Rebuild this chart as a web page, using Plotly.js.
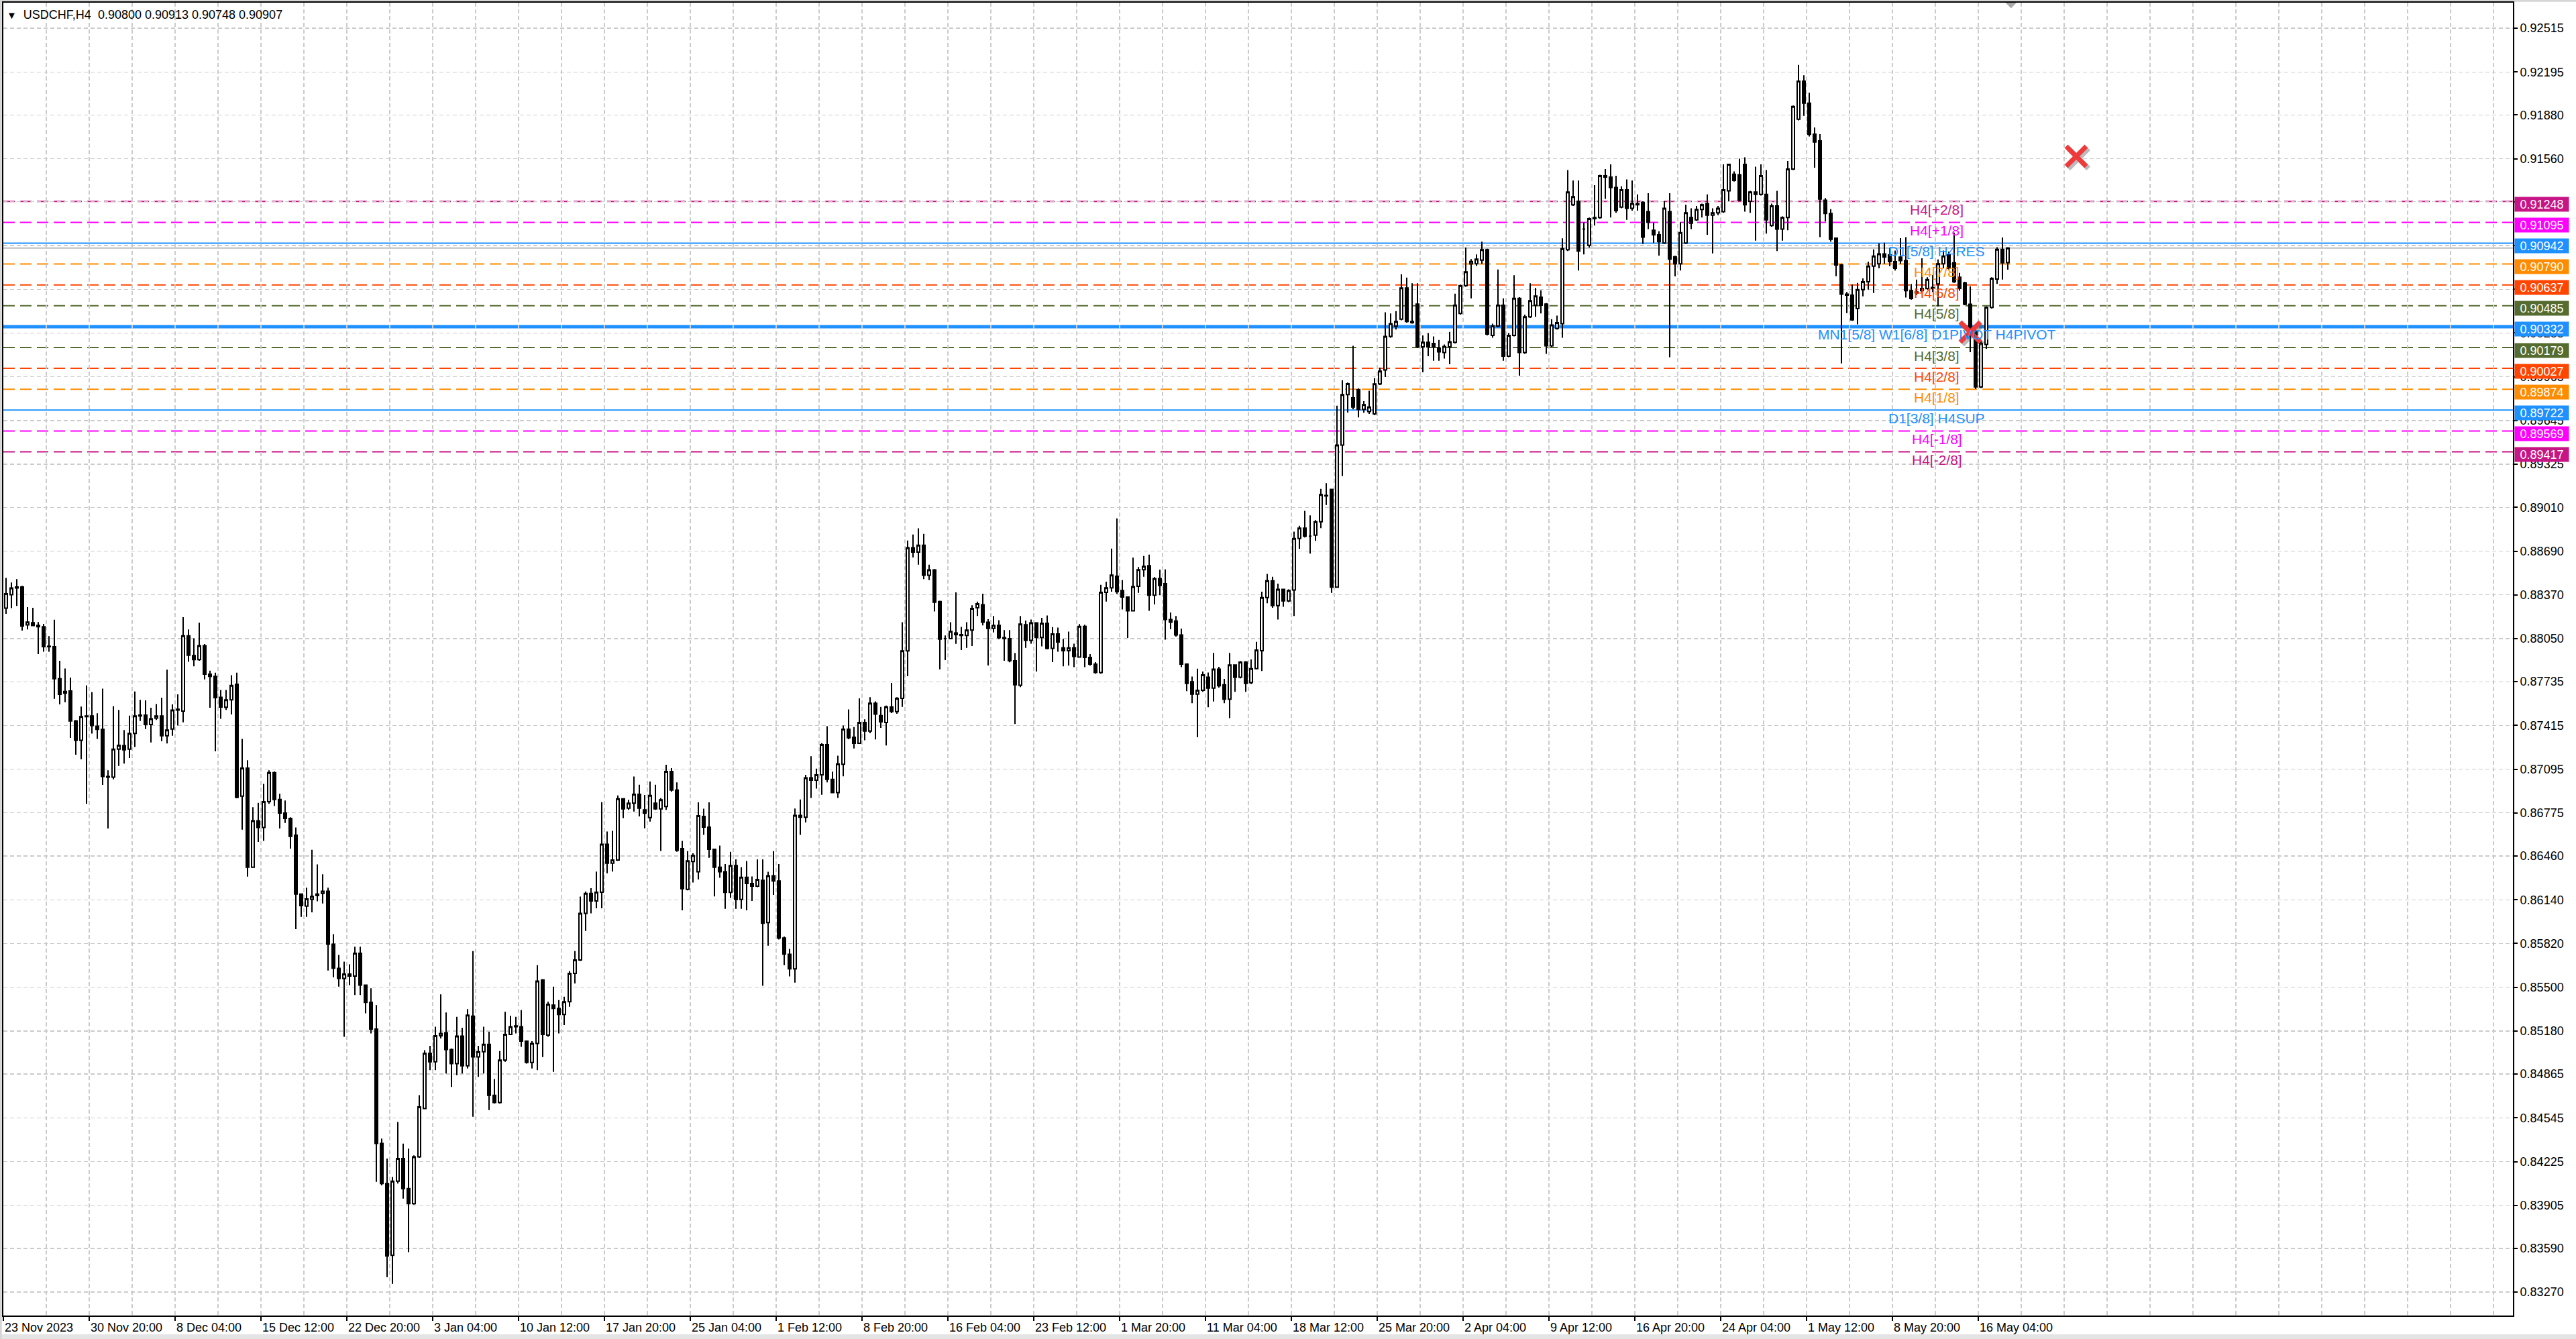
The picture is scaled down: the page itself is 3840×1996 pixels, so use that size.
<!DOCTYPE html>
<html><head><meta charset="utf-8">
<script src="https://cdn.plot.ly/plotly-3.0.1.min.js"></script>
<style>html,body{margin:0;padding:0;background:#fff;overflow:hidden}#chart{width:3840px;height:1996px}</style>
</head><body><div id="chart"></div>
<script>
// ---------------- DATA ----------------
const symbolName = "USDCHF,H4";
const timeLabels = ["23 Nov 2023","30 Nov 20:00","8 Dec 04:00","15 Dec 12:00","22 Dec 20:00","3 Jan 04:00","10 Jan 12:00","17 Jan 20:00","25 Jan 04:00","1 Feb 12:00","8 Feb 20:00","16 Feb 04:00","23 Feb 12:00","1 Mar 20:00","11 Mar 04:00","18 Mar 12:00","25 Mar 20:00","2 Apr 04:00","9 Apr 12:00","16 Apr 20:00","24 Apr 04:00","1 May 12:00","8 May 20:00","16 May 04:00"];
const yTickValues = [0.92515,0.92195,0.91880,0.91560,0.91245,0.90925,0.90605,0.90285,0.89965,0.89645,0.89325,0.89010,0.88690,0.88370,0.88050,0.87735,0.87415,0.87095,0.86775,0.86460,0.86140,0.85820,0.85500,0.85180,0.84865,0.84545,0.84225,0.83905,0.83590,0.83270];

const openPrices = [
0.88273,0.88371,0.88420,0.88428,0.88150,0.88166,0.88147,0.88137,0.87995,0.87991,
0.87757,0.87651,0.87667,0.87447,0.87307,0.87479,0.87484,0.87410,0.87386,0.87042,
0.87037,0.87242,0.87267,0.87242,0.87357,0.87484,0.87491,0.87422,0.87468,0.87484,
0.87340,0.87389,0.87527,0.87520,0.88071,0.87926,0.87896,0.87998,0.87790,0.87774,
0.87621,0.87548,0.87602,0.87716,0.86898,0.87103,0.86378,0.86718,0.86669,0.86857,
0.87070,0.86874,0.86774,0.86735,0.86612,0.86182,0.86093,0.86143,0.86170,0.86187,
0.86203,0.85815,0.85638,0.85565,0.85597,0.85582,0.85748,0.85516,0.85389,0.85194,
0.84357,0.84064,0.83539,0.84081,0.84247,0.84027,0.83917,0.84259,0.84613,0.85016,
0.84955,0.85145,0.85167,0.85045,0.84942,0.85143,0.84925,0.85289,0.84991,0.85028,
0.85082,0.84710,0.84657,0.84967,0.85155,0.85211,0.85211,0.85106,0.84950,0.85089,
0.85553,0.85150,0.85369,0.85345,0.85301,0.85394,0.85601,0.85699,0.86041,0.86187,
0.86131,0.86195,0.86546,0.86407,0.86431,0.86878,0.86810,0.86846,0.86912,0.86798,
0.86741,0.86846,0.86805,0.86822,0.87078,0.86942,0.86514,0.86216,0.86419,0.86345,
0.86750,0.86671,0.86509,0.86378,0.86345,0.86194,0.86390,0.86142,0.86304,0.86259,
0.86239,0.86282,0.85973,0.86315,0.86277,0.85860,0.85741,0.85635,0.86757,0.86744,
0.87032,0.87014,0.87054,0.87275,0.87021,0.86924,0.87131,0.87388,0.87329,0.87284,
0.87437,0.87374,0.87577,0.87487,0.87437,0.87550,0.87516,0.87613,0.87960,0.88715,
0.88683,0.88733,0.88514,0.88553,0.88321,0.88050,0.88050,0.88091,0.88079,0.88073,
0.88113,0.88275,0.88298,0.88170,0.88125,0.88147,0.88057,0.88050,0.87888,0.87709,
0.88152,0.88038,0.88165,0.88059,0.88162,0.87979,0.88084,0.87983,0.87962,0.87982,
0.87915,0.88140,0.87912,0.87864,0.87802,0.88388,0.88422,0.88506,0.88402,0.88354,
0.88253,0.88432,0.88554,0.88584,0.88368,0.88489,0.88452,0.88190,0.88179,0.88077,
0.87864,0.87734,0.87644,0.87672,0.87768,0.87688,0.87827,0.87712,0.87607,0.87857,
0.87768,0.87878,0.87729,0.87830,0.87962,0.88351,0.88473,0.88292,0.88410,0.88326,
0.88405,0.88782,0.88858,0.88799,0.88807,0.88905,0.89098,0.89142,0.88427,0.89466,
0.89835,0.89812,0.89871,0.89727,0.89711,0.89694,0.89913,0.90015,0.90260,0.90336,
0.90387,0.90615,0.90361,0.90497,0.90184,0.90218,0.90209,0.90175,0.90142,0.90184,
0.90218,0.90429,0.90632,0.90792,0.90792,0.90818,0.90894,0.90268,0.90336,0.90488,
0.90116,0.90268,0.90539,0.90142,0.90404,0.90488,0.90547,0.90497,0.90192,0.90319,
0.90353,0.90894,0.91223,0.91249,0.91046,0.90927,0.91122,0.91130,0.91435,0.91426,
0.91350,0.91206,0.91333,0.91198,0.91223,0.91240,0.91173,0.91037,0.91004,0.90944,
0.91173,0.90843,0.90792,0.90944,0.91130,0.91113,0.91189,0.91232,0.91147,0.91164,
0.91173,0.91325,0.91446,0.91443,0.91519,0.91249,0.91316,0.91299,0.91299,0.91071,
0.91215,0.91046,0.91130,0.91485,0.91849,0.92127,0.91967,0.91740,0.91691,0.91257,
0.91159,0.90979,0.90783,0.90570,0.90562,0.90464,0.90603,0.90660,0.90774,0.90791,
0.90864,0.90856,0.90807,0.90840,0.90815,0.90595,0.90586,0.90595,0.90611,0.90619,
0.90644,0.90791,0.90856,0.90799,0.90693,0.90652,0.90496,0.90300,0.89891,0.90202,
0.90472,0.90680,0.90897,0.90800];

const highPrices = [
0.88494,0.88461,0.88485,0.88436,0.88281,0.88276,0.88171,0.88158,0.88068,0.88188,
0.87888,0.87831,0.87765,0.87455,0.87553,0.87708,0.87659,0.87504,0.87684,0.87087,
0.87556,0.87528,0.87381,0.87487,0.87664,0.87602,0.87599,0.87545,0.87572,0.87618,
0.87823,0.87569,0.87643,0.88207,0.88117,0.88052,0.88166,0.88011,0.87815,0.87801,
0.87675,0.87675,0.87782,0.87801,0.87316,0.87160,0.86817,0.86849,0.86988,0.87087,
0.87078,0.86915,0.86866,0.86743,0.86669,0.86187,0.86228,0.86506,0.86399,0.86326,
0.86228,0.85888,0.85736,0.85687,0.85667,0.85797,0.85797,0.85516,0.85492,0.85369,
0.84393,0.84247,0.84112,0.84515,0.84356,0.84320,0.84271,0.84711,0.85040,0.85072,
0.85211,0.85448,0.85316,0.85052,0.85284,0.85204,0.85340,0.85765,0.85072,0.85211,
0.85174,0.84828,0.85033,0.85321,0.85291,0.85284,0.85333,0.85106,0.85106,0.85662,
0.85560,0.85394,0.85504,0.85406,0.85431,0.85618,0.85765,0.86163,0.86200,0.86224,
0.86346,0.86854,0.86639,0.86644,0.86903,0.86878,0.86871,0.87042,0.86981,0.86907,
0.87005,0.86981,0.86883,0.87127,0.87103,0.86998,0.86570,0.86496,0.86480,0.86852,
0.86806,0.86852,0.86514,0.86536,0.86401,0.86491,0.86435,0.86378,0.86423,0.86311,
0.86435,0.86435,0.86345,0.86496,0.86401,0.85871,0.85781,0.86807,0.86874,0.87054,
0.87190,0.87099,0.87286,0.87410,0.87077,0.87194,0.87415,0.87532,0.87404,0.87613,
0.87460,0.87622,0.87591,0.87550,0.87561,0.87726,0.87622,0.88170,0.88767,0.88812,
0.88857,0.88816,0.88591,0.88559,0.88327,0.88073,0.88170,0.88388,0.88136,0.88170,
0.88294,0.88321,0.88379,0.88192,0.88215,0.88185,0.88113,0.88113,0.87944,0.88216,
0.88182,0.88190,0.88168,0.88202,0.88219,0.88135,0.88131,0.88047,0.88101,0.88013,
0.88157,0.88152,0.87937,0.87878,0.88444,0.88466,0.88709,0.88929,0.88478,0.88359,
0.88642,0.88574,0.88655,0.88664,0.88500,0.88554,0.88557,0.88241,0.88216,0.88123,
0.87869,0.87773,0.87830,0.87810,0.87802,0.87945,0.87844,0.87756,0.87945,0.87861,
0.87886,0.87886,0.87898,0.88027,0.88393,0.88523,0.88503,0.88452,0.88415,0.88410,
0.88833,0.88875,0.88985,0.88951,0.88917,0.89145,0.89187,0.89145,0.89754,0.89940,
0.89923,0.90192,0.89880,0.89787,0.89863,0.89956,0.90032,0.90437,0.90429,0.90446,
0.90716,0.90691,0.90649,0.90649,0.90268,0.90285,0.90260,0.90235,0.90201,0.90294,
0.90573,0.90640,0.90911,0.90826,0.90860,0.90953,0.90902,0.90353,0.90750,0.90539,
0.90285,0.90708,0.90547,0.90420,0.90649,0.90615,0.90598,0.90505,0.90387,0.90412,
0.90978,0.91477,0.91401,0.91401,0.91096,0.91130,0.91367,0.91443,0.91485,0.91519,
0.91435,0.91358,0.91409,0.91401,0.91299,0.91249,0.91308,0.91096,0.91029,0.91249,
0.91308,0.90851,0.91096,0.91223,0.91198,0.91215,0.91232,0.91299,0.91198,0.91215,
0.91519,0.91519,0.91468,0.91561,0.91570,0.91325,0.91502,0.91519,0.91477,0.91232,
0.91325,0.91139,0.91544,0.91950,0.92246,0.92170,0.92043,0.91789,0.91740,0.91273,
0.91192,0.90984,0.90791,0.90586,0.90640,0.90652,0.90685,0.90807,0.90897,0.90941,
0.90946,0.90905,0.90889,0.90979,0.90987,0.90644,0.90676,0.90832,0.90693,0.90709,
0.90824,0.90889,0.90881,0.91020,0.90725,0.90660,0.90627,0.90308,0.90235,0.90480,
0.90693,0.90913,0.90984,0.90913];

const lowPrices = [
0.88232,0.88273,0.88289,0.88109,0.88117,0.88142,0.87937,0.87954,0.87954,0.87610,
0.87569,0.87585,0.87324,0.87201,0.87168,0.86841,0.87356,0.87316,0.86980,0.86661,
0.87021,0.87119,0.87136,0.87176,0.87258,0.87447,0.87389,0.87291,0.87455,0.87299,
0.87283,0.87340,0.87414,0.87438,0.87880,0.87847,0.87888,0.87752,0.87545,0.87226,
0.87463,0.87528,0.87496,0.86882,0.86653,0.86309,0.86375,0.86563,0.86571,0.86841,
0.86825,0.86661,0.86702,0.86514,0.85925,0.86015,0.86015,0.86048,0.86129,0.86113,
0.85622,0.85573,0.85504,0.85138,0.85516,0.85443,0.85443,0.85309,0.85162,0.84076,
0.84051,0.83380,0.83331,0.84064,0.83954,0.83563,0.83910,0.84252,0.84613,0.84894,
0.84894,0.85125,0.84869,0.84771,0.84857,0.84869,0.84906,0.84552,0.84845,0.84869,
0.84601,0.84650,0.84650,0.84955,0.85150,0.85162,0.85064,0.84942,0.84906,0.84894,
0.84989,0.85138,0.84881,0.85162,0.85223,0.85357,0.85528,0.85692,0.85912,0.86041,
0.86077,0.86077,0.86334,0.86346,0.86424,0.86737,0.86798,0.86785,0.86749,0.86663,
0.86712,0.86798,0.86497,0.86798,0.86930,0.86491,0.86063,0.86209,0.86266,0.86288,
0.86615,0.86446,0.86164,0.86300,0.86074,0.86153,0.86074,0.86074,0.86063,0.86131,
0.86232,0.85511,0.85804,0.86176,0.85849,0.85662,0.85579,0.85534,0.86615,0.86705,
0.86885,0.86953,0.86908,0.86998,0.86919,0.86885,0.87043,0.87314,0.87246,0.87280,
0.87307,0.87358,0.87313,0.87397,0.87268,0.87505,0.87500,0.87550,0.87775,0.88643,
0.88591,0.88485,0.88478,0.88248,0.87825,0.87893,0.88046,0.88012,0.87967,0.87983,
0.87996,0.88215,0.88147,0.87854,0.88095,0.88046,0.87888,0.87877,0.87426,0.87695,
0.87983,0.88013,0.87810,0.87993,0.87971,0.87878,0.87954,0.87847,0.87852,0.87841,
0.87912,0.87841,0.87852,0.87793,0.87793,0.88321,0.88393,0.88376,0.88263,0.88055,
0.88250,0.88385,0.88503,0.88253,0.88300,0.88368,0.88042,0.88118,0.88064,0.87841,
0.87666,0.87577,0.87328,0.87661,0.87548,0.87590,0.87692,0.87577,0.87469,0.87661,
0.87759,0.87661,0.87717,0.87827,0.87813,0.88309,0.88275,0.88190,0.88283,0.88317,
0.88216,0.88706,0.88790,0.88672,0.88765,0.88858,0.89027,0.88385,0.88422,0.89238,
0.89703,0.89727,0.89668,0.89702,0.89694,0.89685,0.89905,0.89964,0.90251,0.90311,
0.90378,0.90361,0.90353,0.90175,0.89998,0.90116,0.90082,0.90082,0.90099,0.90057,
0.90209,0.90420,0.90623,0.90539,0.90775,0.90792,0.90268,0.90251,0.90327,0.90082,
0.90108,0.90260,0.89973,0.90133,0.90395,0.90404,0.90429,0.90133,0.90184,0.90311,
0.90251,0.90885,0.91215,0.90742,0.90860,0.90911,0.91071,0.91122,0.91266,0.91130,
0.91164,0.91198,0.91113,0.91181,0.91181,0.90936,0.91046,0.90944,0.90852,0.90936,
0.90108,0.90699,0.90742,0.90936,0.91046,0.91105,0.91130,0.91004,0.90868,0.91147,
0.91164,0.91249,0.91392,0.91249,0.91173,0.91164,0.90961,0.91291,0.91012,0.91063,
0.90885,0.90961,0.91037,0.91477,0.91840,0.91874,0.91722,0.91494,0.90987,0.91102,
0.90954,0.90701,0.90063,0.90431,0.90374,0.90349,0.90554,0.90603,0.90578,0.90758,
0.90791,0.90774,0.90742,0.90791,0.90545,0.90529,0.90562,0.90586,0.90603,0.90586,
0.90480,0.90758,0.90750,0.90652,0.90595,0.90488,0.90145,0.89875,0.89883,0.90169,
0.90464,0.90644,0.90676,0.90748];

const closePrices = [
0.88379,0.88420,0.88428,0.88142,0.88171,0.88145,0.88137,0.87991,0.87991,0.87757,
0.87643,0.87664,0.87447,0.87307,0.87479,0.87484,0.87414,0.87386,0.87042,0.87037,
0.87242,0.87270,0.87237,0.87357,0.87484,0.87491,0.87422,0.87463,0.87484,0.87340,
0.87381,0.87527,0.87533,0.88071,0.87929,0.87896,0.87998,0.87790,0.87774,0.87618,
0.87549,0.87602,0.87708,0.86890,0.87103,0.86378,0.86718,0.86669,0.86857,0.87070,
0.86874,0.86774,0.86735,0.86604,0.86182,0.86097,0.86146,0.86165,0.86182,0.86203,
0.85815,0.85639,0.85565,0.85597,0.85582,0.85748,0.85516,0.85389,0.85194,0.84357,
0.84064,0.83534,0.84081,0.84247,0.84027,0.83917,0.84259,0.84625,0.85016,0.84955,
0.85145,0.85162,0.85045,0.84942,0.85143,0.84925,0.85296,0.84991,0.85028,0.85082,
0.84710,0.84657,0.84967,0.85155,0.85211,0.85218,0.85106,0.84950,0.85089,0.85545,
0.85155,0.85374,0.85345,0.85301,0.85394,0.85601,0.85699,0.86041,0.86187,0.86131,
0.86195,0.86546,0.86407,0.86431,0.86878,0.86805,0.86846,0.86912,0.86810,0.86773,
0.86903,0.86805,0.86871,0.87078,0.86942,0.86502,0.86221,0.86424,0.86464,0.86755,
0.86671,0.86509,0.86378,0.86345,0.86194,0.86390,0.86142,0.86304,0.86259,0.86239,
0.86288,0.85968,0.86315,0.86277,0.85860,0.85743,0.85635,0.86757,0.86744,0.87032,
0.87014,0.87054,0.87275,0.87021,0.86924,0.87133,0.87388,0.87325,0.87284,0.87437,
0.87374,0.87577,0.87498,0.87442,0.87550,0.87516,0.87613,0.87960,0.88715,0.88683,
0.88733,0.88514,0.88553,0.88316,0.88046,0.88050,0.88102,0.88079,0.88073,0.88113,
0.88271,0.88305,0.88170,0.88125,0.88147,0.88057,0.88050,0.87888,0.87712,0.88157,
0.88038,0.88165,0.88059,0.88162,0.87979,0.88084,0.88025,0.87962,0.87982,0.87920,
0.88140,0.87912,0.87864,0.87802,0.88388,0.88422,0.88515,0.88393,0.88354,0.88253,
0.88430,0.88554,0.88579,0.88368,0.88489,0.88439,0.88190,0.88170,0.88077,0.87864,
0.87722,0.87644,0.87672,0.87785,0.87688,0.87827,0.87705,0.87607,0.87857,0.87768,
0.87878,0.87722,0.87830,0.87966,0.88351,0.88473,0.88292,0.88410,0.88326,0.88402,
0.88782,0.88858,0.88799,0.88799,0.88905,0.89103,0.89094,0.88427,0.89466,0.89835,
0.89914,0.89744,0.89727,0.89761,0.89744,0.89913,0.90006,0.90260,0.90353,0.90370,
0.90615,0.90370,0.90370,0.90184,0.90218,0.90184,0.90184,0.90147,0.90187,0.90221,
0.90488,0.90632,0.90733,0.90809,0.90826,0.90894,0.90277,0.90336,0.90488,0.90116,
0.90268,0.90539,0.90142,0.90404,0.90522,0.90556,0.90488,0.90192,0.90344,0.90361,
0.90902,0.91316,0.91282,0.90885,0.91046,0.91122,0.91130,0.91435,0.91426,0.91350,
0.91181,0.91333,0.91198,0.91232,0.91232,0.90987,0.91096,0.91004,0.90953,0.91198,
0.90826,0.90792,0.91020,0.91164,0.91088,0.91189,0.91223,0.91147,0.91164,0.91198,
0.91333,0.91519,0.91401,0.91257,0.91223,0.91316,0.91299,0.91435,0.91113,0.91215,
0.91046,0.91130,0.91485,0.91942,0.92127,0.91967,0.91739,0.91682,0.91265,0.91159,
0.90971,0.90783,0.90570,0.90562,0.90382,0.90603,0.90660,0.90774,0.90848,0.90864,
0.90840,0.90807,0.90758,0.90815,0.90595,0.90537,0.90578,0.90611,0.90676,0.90611,
0.90791,0.90848,0.90758,0.90660,0.90611,0.90496,0.90267,0.89891,0.90210,0.90472,
0.90685,0.90897,0.90799,0.90907];

// Murrey / pivot levels
const levelPrices = [0.91248,0.91095,0.90942,0.90790,0.90637,0.90485,0.90332,0.90179,0.90027,0.89874,0.89722,0.89569,0.89417];
const levelNames = ["H4[+2/8]","H4[+1/8]","D1[5/8] H4RES","H4[7/8]","H4[6/8]","H4[5/8]","MN1[5/8] W1[6/8] D1PIVOT H4PIVOT","H4[3/8]","H4[2/8]","H4[1/8]","D1[3/8] H4SUP","H4[-1/8]","H4[-2/8]"];
const bidPrice = 0.90907;
// signal crosses (bar position, price)
const signalBars = [772, 732.5];
const signalPrices = [0.91578, 0.90292];

// ---------------- STYLE ----------------
const levelColors = ["#C71585","#FF00FF","#1E90FF","#FF8C00","#FF4500","#556B2F","#1E90FF","#556B2F","#FF4500","#FF8C00","#1E90FF","#FF00FF","#C71585"];
const levelKinds  = ["dash","dash","solid","dash","dash","dash","thick","dash","dash","dash","solid","dash","dash"];
const FONT = "Liberation Sans, Arial, sans-serif";
const GRID = "#CBCBCB";
const BARS_PER_CANDLE = 2;
const LABEL_EVERY = 32;
const LEVEL_LABEL_X = 720;

const xs = openPrices.map((_, j) => j * BARS_PER_CANDLE + 0.5);
const tickVals = timeLabels.map((_, k) => k * LABEL_EVERY - 0.5);
const minorVals = [];
for (let m = 0; m <= 58; m++) minorVals.push(m * 16 - 0.5);

const traces = [
  {
    type: 'candlestick', x: xs,
    open: openPrices, high: highPrices, low: lowPrices, close: closePrices,
    increasing: {line: {color: '#000000', width: 2}, fillcolor: '#FFFFFF'},
    decreasing: {line: {color: '#000000', width: 2}, fillcolor: '#000000'},
    whiskerwidth: 0, hoverinfo: 'skip', showlegend: false
  },
  {
    type: 'scatter', mode: 'markers',
    x: signalBars.map(v => v + 0.8), y: signalPrices.map(v => v - 0.00016),
    marker: {symbol: 'x-thin', size: 30, line: {width: 8, color: 'rgba(60,60,60,0.35)'}},
    hoverinfo: 'skip', showlegend: false
  },
  {
    type: 'scatter', mode: 'markers', x: signalBars, y: signalPrices,
    marker: {symbol: 'x-thin', size: 30, line: {width: 7, color: '#EE3A3A'}},
    hoverinfo: 'skip', showlegend: false
  }
];

const shapes = [];
levelPrices.forEach((p, i) => {
  const kind = levelKinds[i];
  shapes.push({
    type: 'line', xref: 'paper', x0: 0, x1: 1, yref: 'y', y0: p, y1: p, layer: 'between',
    line: {color: levelColors[i], width: kind === 'thick' ? 5 : 2, dash: kind === 'dash' ? '17px,8px' : 'solid'}
  });
});
shapes.push({type: 'line', xref: 'paper', x0: 0, x1: 1, yref: 'y', y0: bidPrice, y1: bidPrice, layer: 'between',
  line: {color: '#BEBEBE', width: 2}});
// window frame strips
shapes.push({type: 'rect', xref: 'paper', yref: 'paper', x0: -0.002, x1: 1.03, y0: -0.0143, y1: -0.02, fillcolor: '#E4E4E4', line: {width: 0}, layer: 'below'});
shapes.push({type: 'rect', xref: 'paper', yref: 'paper', x0: -0.002, x1: -0.0006, y0: -0.02, y1: 1.003, fillcolor: '#D6D6D6', line: {width: 0}, layer: 'below'});
shapes.push({type: 'rect', xref: 'paper', yref: 'paper', x0: -0.002, x1: 1.03, y0: 1.0006, y1: 1.003, fillcolor: '#D6D6D6', line: {width: 0}, layer: 'below'});
// chart shift marker
shapes.push({type: 'path', xref: 'paper', yref: 'paper', path: 'M 0.7978 1 L 0.8022 1 L 0.8000 0.9958 Z', fillcolor: '#A8A8A8', line: {width: 0}});

const annotations = [];
levelPrices.forEach((p, i) => {
  annotations.push({
    xref: 'x', x: LEVEL_LABEL_X, yref: 'y', y: p, yshift: -12, showarrow: false,
    text: levelNames[i], xanchor: 'center', yanchor: 'middle',
    font: {family: FONT, size: 21, color: levelColors[i]}
  });
  annotations.push({
    xref: 'paper', x: 1, xanchor: 'left', xshift: 2, yref: 'y', y: p, yanchor: 'middle', yshift: -4,
    showarrow: false, text: p.toFixed(5), bgcolor: levelColors[i], width: 80, height: 21, borderpad: 0,
    align: 'center', font: {family: FONT, size: 18, color: '#FFFFFF'}
  });
});
const last = openPrices.length - 1;
annotations.push({
  xref: 'paper', x: 0, xanchor: 'left', xshift: 3, yref: 'paper', y: 1, yanchor: 'top', yshift: -6,
  showarrow: false, align: 'left',
  text: '<span style="font-size:15px">\u25BC</span>\u00A0\u00A0' + symbolName + '\u00A0\u00A0' +
        [openPrices[last], highPrices[last], lowPrices[last], closePrices[last]].map(v => v.toFixed(5)).join(' '),
  font: {family: FONT, size: 18, color: '#000000'}
});

const layout = {
  width: 3840, height: 1996,
  margin: {l: 5, r: 94, t: 4, b: 35, pad: 0},
  paper_bgcolor: '#FFFFFF', plot_bgcolor: '#FFFFFF',
  showlegend: false, hovermode: false, dragmode: false,
  boxgap: 0.5, boxgroupgap: 0,
  font: {family: FONT, size: 18, color: '#000000'},
  xaxis: {
    type: 'linear', range: [-0.5, 934.75], rangeslider: {visible: false}, fixedrange: true,
    tickmode: 'array', tickvals: tickVals, ticktext: timeLabels,
    ticks: 'outside', ticklen: 6, tickwidth: 2, tickcolor: '#000000',
    ticklabelposition: 'outside right',
    tickfont: {family: FONT, size: 18, color: '#000000'},
    showgrid: true, gridcolor: GRID, gridwidth: 1.3, griddash: '6px,4px',
    minor: {tickmode: 'array', tickvals: minorVals, showgrid: true, gridcolor: GRID, gridwidth: 1.3, griddash: '6px,4px', ticks: ''},
    showline: true, linecolor: '#000000', linewidth: 2, mirror: true, zeroline: false
  },
  yaxis: {
    side: 'right', range: [0.830989, 0.927015], fixedrange: true,
    tickmode: 'array', tickvals: yTickValues, ticktext: yTickValues.map(v => v.toFixed(5)),
    ticks: 'outside', ticklen: 5, tickwidth: 2, tickcolor: '#000000',
    tickfont: {family: FONT, size: 18, color: '#000000'},
    showgrid: true, gridcolor: GRID, gridwidth: 1.3, griddash: '6px,4px',
    showline: true, linecolor: '#000000', linewidth: 2, mirror: true, zeroline: false
  },
  shapes: shapes,
  annotations: annotations
};

Plotly.newPlot('chart', traces, layout, {staticPlot: true, displayModeBar: false});
</script>
</body></html>
